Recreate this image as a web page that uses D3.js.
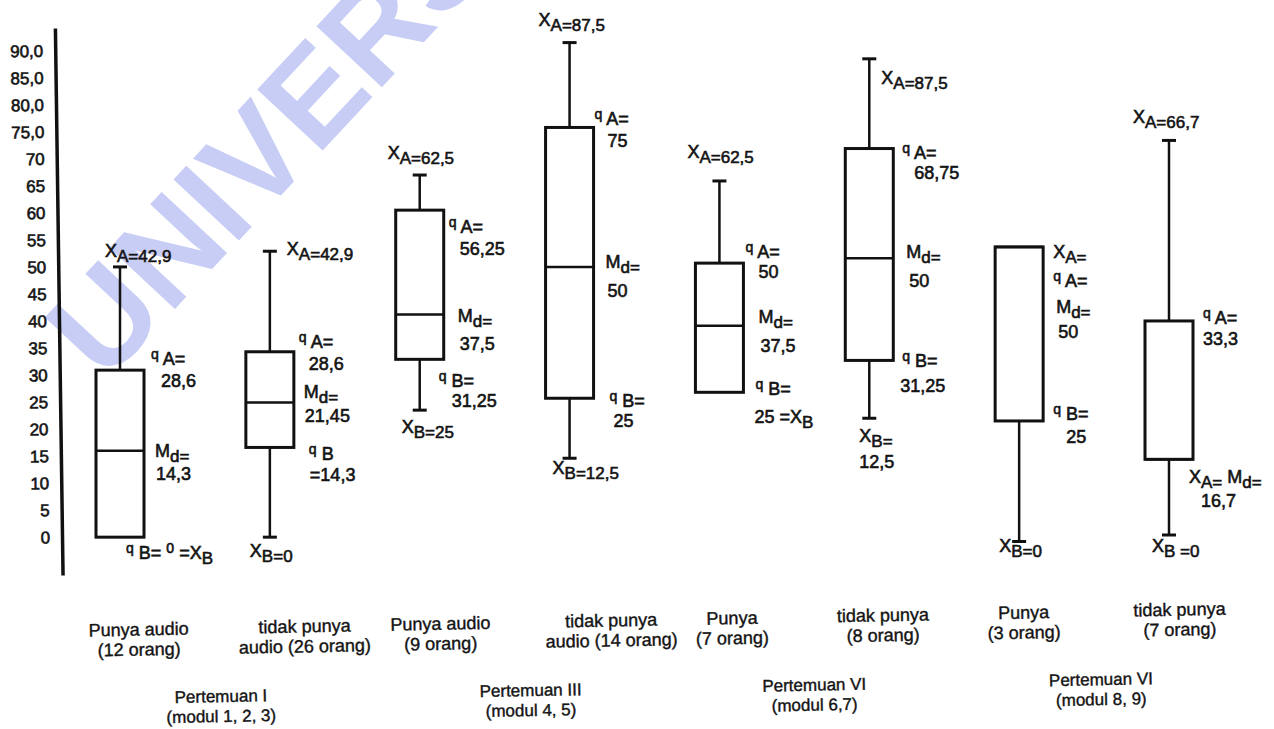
<!DOCTYPE html>
<html lang="id">
<head>
<meta charset="UTF-8">
<title>Box plot per pertemuan</title>
<script src="https://d3js.org/d3.v7.min.js"></script>
<style>
  body { margin: 0; background: #fff; overflow: hidden; }
  svg text { font-family: "Liberation Sans", Arial, sans-serif; fill: #141414; white-space: pre; }
</style>
</head>
<body>
<svg id="chart" width="1274" height="729"></svg>
<script>
// one box per group of students
const categoryLines = [
    ["Punya audio", "(12 orang)"],
    ["tidak punya", "audio (26 orang)"],
    ["Punya audio", "(9 orang)"],
    ["tidak punya", "audio (14 orang)"],
    ["Punya", "(7 orang)"],
    ["tidak punya", "(8 orang)"],
    ["Punya", "(3 orang)"],
    ["tidak punya", "(7 orang)"]
];
const meetings = [
    ["Pertemuan I", "(modul 1, 2, 3)"],
    ["Pertemuan III", "(modul 4, 5)"],
    ["Pertemuan VI", "(modul 6,7)"],
    ["Pertemuan VI", "(modul 8, 9)"]
];

// five-number summaries as drawn on the axis
const mins    = [0,    0,    23.5, 14.6, 26.8, 22.0, -0.8, 0.4];
const lowerQ  = [0,    16.6, 32.9, 25.7, 26.8, 32.7, 21.5, 14.4];
const medians = [16.0, 24.9, 41.2, 50.0, 39.1, 51.6, 53.7, 14.4];
const upperQ  = [30.9, 34.3, 60.5, 75.8, 50.7, 71.9, 53.7, 40.0];
const maxs    = [50.0, 52.9, 67.0, 91.5, 65.9, 88.5, 53.7, 73.4];

const tickValues = d3.range(0, 95, 5);
const tickLabels = ["0", "5", "10", "15", "20", "25", "30", "35", "40", "45",
                    "50", "55", "60", "65", "70", "75,0", "80,0", "85,0", "90,0"];

// handwritten notes next to each box: [box, stat, dx, dy, text]
// ^q = small raised letter, _{..} = lowered part
const notes = [
    [0, "max", -15, -10, "X_{A=42,9}"],
    [0, "q3", 31, -5, "^q A="],
    [0, "q3", 41, 17, "28,6"],
    [0, "med", 35, 6, "M_{d=}"],
    [0, "med", 36, 29, "14,3"],
    [0, "q1", 6, 22, "^q B= ^0 =X_{B}"],

    [1, "max", 17, 4, "X_{A=42,9}"],
    [1, "q3", 29, -4, "^q A="],
    [1, "q3", 39, 18, "28,6"],
    [1, "med", 34, -5, "M_{d=}"],
    [1, "med", 35, 19, "21,45"],
    [1, "q1", 39, 13, "^q B"],
    [1, "q1", 40, 34, "=14,3"],
    [1, "min", -20, 20, "X_{B=0}"],

    [2, "max", -32, -16, "X_{A=62,5}"],
    [2, "q3", 29, 23, "^q A="],
    [2, "q3", 40, 45, "56,25"],
    [2, "med", 38, 8, "M_{d=}"],
    [2, "med", 40, 36, "37,5"],
    [2, "q1", 19, 28, "^q B="],
    [2, "q1", 32, 48, "31,25"],
    [2, "min", -18, 23, "X_{B=25}"],

    [3, "max", -31, -17, "X_{A=87,5}"],
    [3, "q3", 25, -2, "^q A="],
    [3, "q3", 38, 20, "75"],
    [3, "med", 36, 1, "M_{d=}"],
    [3, "med", 38, 30, "50"],
    [3, "q1", 40, 9, "^q B="],
    [3, "q1", 44, 29, "25"],
    [3, "min", -17, 16, "X_{B=12,5}"],

    [4, "max", -32, -23, "X_{A=62,5}"],
    [4, "q3", 26, -5, "^q A="],
    [4, "q3", 39, 15, "50"],
    [4, "med", 39, -3, "M_{d=}"],
    [4, "med", 41, 26, "37,5"],
    [4, "q1", 36, 3, "^q B="],
    [4, "q1", 35, 31, "25 =X_{B}"],

    [5, "max", 12, 25, "X_{A=87,5}"],
    [5, "q3", 33, 10, "^q A="],
    [5, "q3", 45, 30, "68,75"],
    [5, "med", 37, 0, "M_{d=}"],
    [5, "med", 40, 29, "50"],
    [5, "q1", 33, 7, "^q B="],
    [5, "q1", 31, 32, "31,25"],
    [5, "min", -10, 24, "X_{B=}"],
    [5, "min", -10, 50, "12,5"],

    [6, "max", 34, 11, "X_{A=}"],
    [6, "max", 34, 40, "^q A="],
    [6, "max", 37, 66, "M_{d=}"],
    [6, "max", 39, 91, "50"],
    [6, "q1", 34, -1, "^q B="],
    [6, "q1", 47, 22, "25"],
    [6, "min", -20, 11, "X_{B=0}"],

    [7, "max", -36, -17, "X_{A=66,7}"],
    [7, "q3", 34, 3, "^q A="],
    [7, "q3", 34, 24, "33,3"],
    [7, "med", 20, 24, "X_{A=} M_{d=}"],
    [7, "med", 32, 48, "16,7"],
    [7, "min", -17, 17, "X_{B =0}"]
];

const catDx = [19, 35, 21, 42, 13, 14, 5, 11];
const meetDx = [25, 35, 19, 6];

const svg = d3.select("#chart");
const boxW = 48, capW = 14;

const y = d3.scaleLinear().domain([-7, 94.2]).range([575, 28]);
const x = d3.scalePoint().domain(d3.range(categoryLines.length)).range([120, 1169]);

const boxes = categoryLines.map((c, i) => ({
    i, min: mins[i], q1: lowerQ[i], med: medians[i], q3: upperQ[i], max: maxs[i]
}));

// faint watermark of the scanned page
svg.append("text")
    .attr("transform", "translate(105,384) rotate(-47)")
    .attr("font-size", 130)
    .attr("font-weight", "bold")
    .style("fill", "#c8cdf6")
    .text("UNIVERSITAS TERBUKA");

// y axis (the scan is slightly tilted)
const axisG = svg.append("g")
    .attr("transform", "translate(58.7,0) rotate(-0.8,0,300)")
    .call(d3.axisLeft(y)
        .tickValues(tickValues)
        .tickFormat((d, i) => tickLabels[i])
        .tickSize(0)
        .tickSizeOuter(0)
        .tickPadding(12));
axisG.select(".domain").attr("stroke", "#111").attr("stroke-width", 3.5);
axisG.selectAll("text")
    .attr("font-size", 17)
    .attr("font-family", null)
    .style("stroke", "#141414")
    .style("stroke-width", 0.6);

// boxes
const g = svg.append("g").attr("stroke", "#111").attr("fill", "none");
boxes.forEach(b => {
    const cx = x(b.i);
    if (b.max > b.q3) {
        g.append("line").attr("x1", cx).attr("x2", cx)
            .attr("y1", y(b.q3)).attr("y2", y(b.max)).attr("stroke-width", 2.5);
        g.append("line").attr("x1", cx - capW / 2).attr("x2", cx + capW / 2)
            .attr("y1", y(b.max)).attr("y2", y(b.max)).attr("stroke-width", 3);
    }
    if (b.min < b.q1) {
        g.append("line").attr("x1", cx).attr("x2", cx)
            .attr("y1", y(b.q1)).attr("y2", y(b.min)).attr("stroke-width", 2.5);
        g.append("line").attr("x1", cx - capW / 2).attr("x2", cx + capW / 2)
            .attr("y1", y(b.min)).attr("y2", y(b.min)).attr("stroke-width", 3);
    }
    g.append("rect")
        .attr("x", cx - boxW / 2).attr("width", boxW)
        .attr("y", y(b.q3)).attr("height", y(b.q1) - y(b.q3))
        .attr("stroke-width", 3);
    g.append("line").attr("x1", cx - boxW / 2).attr("x2", cx + boxW / 2)
        .attr("y1", y(b.med)).attr("y2", y(b.med)).attr("stroke-width", 2.5);
});

// notes
function drawNote(px, py, str) {
    const t = svg.append("text").attr("x", px).attr("y", py)
        .style("stroke", "#141414").style("stroke-width", 0.6);
    const re = /\^(\S)|_\{([^}]*)\}|([^_^]+)/g;
    let m, shift = 0;
    while ((m = re.exec(str))) {
        let txt, size, off;
        if (m[1]) { txt = m[1]; size = 14; off = -6; }
        else if (m[2] !== undefined) { txt = m[2]; size = 17; off = 5; }
        else { txt = m[3]; size = 18; off = 0; }
        t.append("tspan").attr("font-size", size).attr("dy", off - shift).text(txt);
        shift = off;
    }
}
notes.forEach(([bi, stat, dx, dy, str]) => {
    const b = boxes[bi];
    drawNote(x(bi) + dx, y(b[stat]) + dy, str);
});

// category and meeting labels (tilted like the scan)
const lab = svg.append("g").attr("transform", "rotate(-1.1,640,640)");
categoryLines.forEach((lines, i) => {
    const t = lab.append("text")
        .attr("text-anchor", "middle")
        .attr("font-size", 18)
        .style("stroke", "#141414").style("stroke-width", 0.4);
    lines.forEach((s, k) => {
        t.append("tspan").attr("x", x(i) + catDx[i]).attr("y", 626 + k * 20).text(s);
    });
});
meetings.forEach((lines, j) => {
    const mid = (x(2 * j) + x(2 * j + 1)) / 2 + meetDx[j];
    const t = lab.append("text")
        .attr("text-anchor", "middle")
        .attr("font-size", 17)
        .style("stroke", "#141414").style("stroke-width", 0.4);
    lines.forEach((s, k) => {
        t.append("tspan").attr("x", mid).attr("y", 694 + k * 20).text(s);
    });
});
</script>
</body>
</html>
